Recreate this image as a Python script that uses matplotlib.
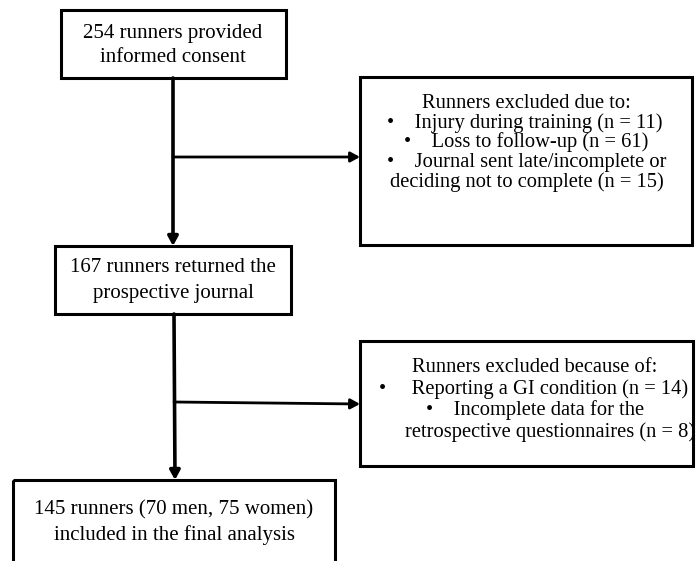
import matplotlib.pyplot as plt
from matplotlib.patches import Rectangle

# flowchart text
enrolled_lines = ["254 runners provided", "informed consent"]
excl1_lines = ["Runners excluded due to:",
               "\u2022    Injury during training (n = 11)",
               "\u2022    Loss to follow-up (n = 61)",
               "\u2022    Journal sent late/incomplete or",
               "deciding not to complete (n = 15)"]
returned_lines = ["167 runners returned the", "prospective journal"]
excl2_lines = ["Runners excluded because of:",
               "\u2022     Reporting a GI condition (n = 14)",
               "\u2022    Incomplete data for the",
               "retrospective questionnaires (n = 8)"]
final_lines = ["145 runners (70 men, 75 women)", "included in the final analysis"]

plt.rcParams['font.family'] = ['Liberation Serif', 'DejaVu Serif']

fig = plt.figure(figsize=(6.96, 5.61), dpi=100)
ax = fig.add_axes([0, 0, 1, 1])
ax.set_xlim(0, 696)
ax.set_ylim(561, 0)
ax.axis('off')

box_lw = 2.2


def box(x0, y0, x1, y1):
    ax.add_patch(Rectangle((x0, y0), x1 - x0, y1 - y0, fill=False,
                           lw=box_lw, ec='black', joinstyle='miter'))


def lines(xs, ys, txt, fs):
    for x, y, t in zip(xs, ys, txt):
        ax.text(x, y, t, ha='center', va='center', fontsize=fs)


def arrow(x0, y0, x1, y1, lw):
    ax.annotate('', xy=(x1, y1), xytext=(x0, y0),
                arrowprops=dict(arrowstyle='-|>,head_length=0.55,head_width=0.3',
                                lw=lw, color='black', shrinkA=0, shrinkB=0))


big = 15
small = 14.8

# boxes
box(61, 10, 286, 78)
box(360, 77, 692, 245)
box(55, 246, 291, 314)
box(360, 341, 693, 466)
box(13, 480, 335, 620)

# connectors
arrow(173, 78, 173, 246, 2.6)
arrow(173, 157, 360, 157, 2.0)
arrow(174, 314, 175, 480, 2.6)
arrow(174, 402, 360, 404, 2.0)

# text
lines([173, 173], [33, 57], enrolled_lines, big)
lines([526, 525, 526, 527, 527], [103, 123, 142, 162, 182], excl1_lines, small)
lines([173, 173], [267, 293], returned_lines, big)
lines([535, 534, 535, 550], [367, 389, 410, 432], excl2_lines, small)
lines([174, 174], [510, 535], final_lines, big)

fig.savefig('out.png', dpi=100)
